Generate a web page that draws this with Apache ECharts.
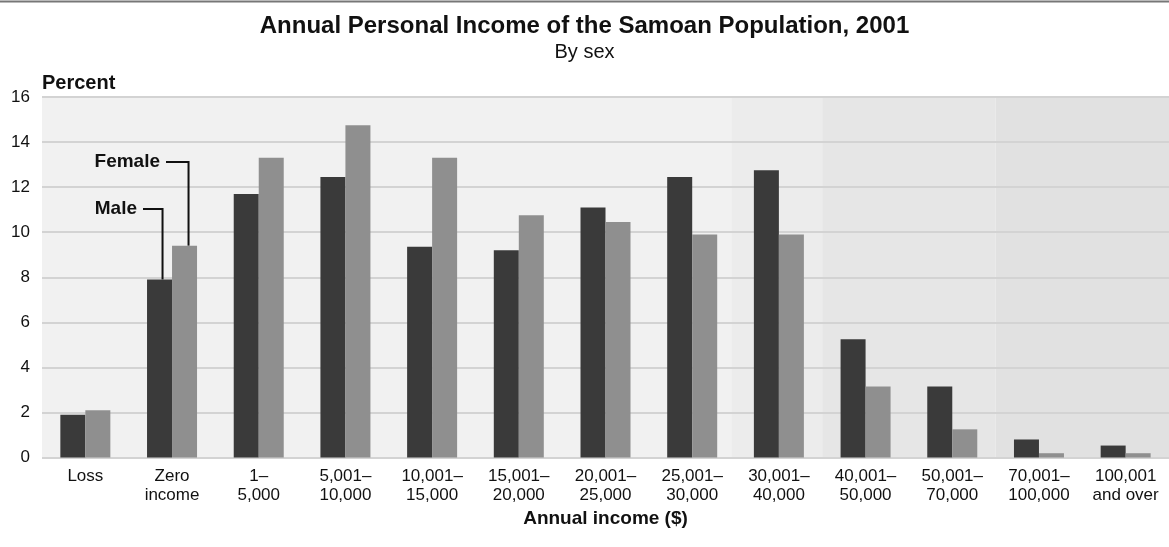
<!DOCTYPE html>
<html>
<head>
<meta charset="utf-8">
<script src="https://cdn.jsdelivr.net/npm/echarts@6/dist/echarts.min.js"></script>
<style>
html,body{margin:0;padding:0;background:#fff;}
#chart{width:1169px;height:547px;}
</style>
</head>
<body>
<div id="chart"></div>
<script>
const categories = ['Loss','Zero\nincome','1–\n5,000','5,001–\n10,000','10,001–\n15,000','15,001–\n20,000','20,001–\n25,000','25,001–\n30,000','30,001–\n40,000','40,001–\n50,000','50,001–\n70,000','70,001–\n100,000','100,001\nand over'];
const male = [1.9, 7.9, 11.7, 12.45, 9.35, 9.2, 11.1, 12.45, 12.75, 5.25, 3.15, 0.8, 0.53];
const female = [2.1, 9.4, 13.3, 14.75, 13.3, 10.75, 10.45, 9.9, 9.9, 3.15, 1.25, 0.19, 0.19];
const yMin = 0, yMax = 16, yStep = 2;
// background bands, in category units [from, to]
const bands = [[0, 7.95], [7.95, 9], [9, 11], [11, 13]];

const FONT = "'Liberation Sans', Arial, Helvetica, sans-serif";
const bandColors = ['#f1f1f1', '#ececec', '#e6e6e6', '#e1e1e1'];
const TXT = '#111111';

const chart = echarts.init(document.getElementById('chart'), null, {renderer: 'canvas'});

const option = {
  animation: false,
  backgroundColor: '#ffffff',
  textStyle: {fontFamily: FONT},
  title: [
    {text: 'Annual Personal Income of the Samoan Population, 2001', left: 'center', top: 9,
     textStyle: {fontFamily: FONT, fontSize: 24, fontWeight: 'bold', color: TXT}},
    {text: 'By sex', left: 'center', top: 37,
     textStyle: {fontFamily: FONT, fontSize: 20, fontWeight: 'normal', color: TXT}}
  ],
  grid: {left: 42, top: 97, width: 1136, height: 360.5, containLabel: false},
  xAxis: [
    {type: 'category', data: categories, boundaryGap: true,
     axisLine: {show: false}, axisTick: {show: false},
     axisLabel: {interval: 0, fontFamily: FONT, fontSize: 17, lineHeight: 19, margin: 9, color: TXT},
     name: 'Annual income ($)', nameLocation: 'middle', nameGap: 52,
     nameTextStyle: {fontFamily: FONT, fontSize: 19, fontWeight: 'bold', color: TXT},
     splitLine: {show: false}},
    {type: 'value', min: 0, max: categories.length, show: false}
  ],
  yAxis: {
    type: 'value', min: yMin, max: yMax, interval: yStep,
    axisLine: {show: false}, axisTick: {show: false},
    axisLabel: {fontFamily: FONT, fontSize: 17, color: TXT, margin: 12},
    splitLine: {show: true, lineStyle: {color: '#d3d3d3', width: 2}},
    name: 'Percent', nameLocation: 'end', nameGap: 14,
    nameTextStyle: {fontFamily: FONT, fontSize: 20, fontWeight: 'bold', color: TXT, align: 'left', verticalAlign: 'middle'}
  },
  series: [
    {type: 'custom', xAxisIndex: 1, yAxisIndex: 0, z: -1, silent: true,
     encode: {x: [0, 1]},
     data: bands,
     renderItem: function (params, api) {
       const p0 = api.coord([api.value(0), yMax]);
       const p1 = api.coord([api.value(1), yMin]);
       return {type: 'rect', shape: {x: p0[0], y: p0[1], width: p1[0] - p0[0], height: p1[1] - p0[1]},
               style: {fill: bandColors[params.dataIndex]}};
     }},
    {name: 'Male', type: 'bar', data: male, barWidth: 25, barGap: '0%',
     itemStyle: {color: '#3a3a3a'}},
    {name: 'Female', type: 'bar', data: female, barWidth: 25, barGap: '0%',
     itemStyle: {color: '#8f8f8f'}}
  ]
};
chart.setOption(option);

// annotation leaders pointing to the "Zero income" bars
const ci = 1;
const cx = chart.convertToPixel({xAxisIndex: 0}, ci);
const mx = cx - 12.5 + 3;
const fx = cx + 12.5 + 4;
const my = chart.convertToPixel({yAxisIndex: 0}, male[ci]);
const fy = chart.convertToPixel({yAxisIndex: 0}, female[ci]);
const fLabelY = 162, mLabelY = 209;

chart.setOption({
  graphic: [
    {type: 'line', shape: {x1: 0, y1: 1.5, x2: 1169, y2: 1.5}, style: {stroke: '#777777', lineWidth: 2}, silent: true},
    {type: 'text', x: 160, y: fLabelY, style: {text: 'Female', textAlign: 'right', textVerticalAlign: 'middle', font: 'bold 19px ' + FONT, fill: TXT}},
    {type: 'polyline', shape: {points: [[166, fLabelY], [fx, fLabelY], [fx, fy]]}, style: {stroke: TXT, lineWidth: 2, fill: null}},
    {type: 'text', x: 137, y: mLabelY, style: {text: 'Male', textAlign: 'right', textVerticalAlign: 'middle', font: 'bold 19px ' + FONT, fill: TXT}},
    {type: 'polyline', shape: {points: [[143, mLabelY], [mx, mLabelY], [mx, my]]}, style: {stroke: TXT, lineWidth: 2, fill: null}}
  ]
});
</script>
</body>
</html>
